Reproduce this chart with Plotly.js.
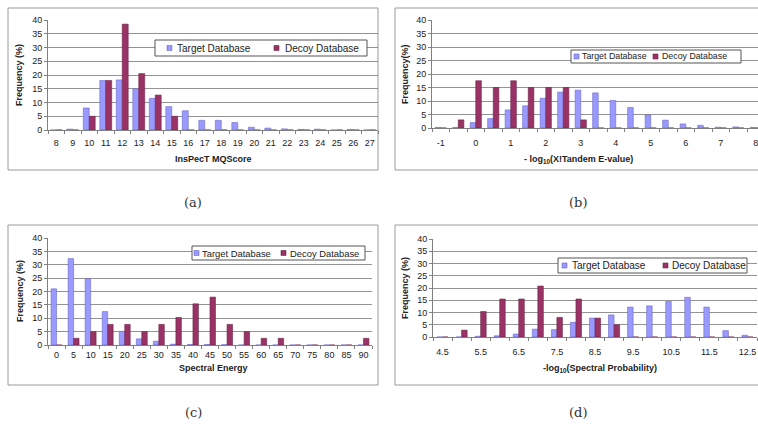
<!DOCTYPE html>
<html>
<head>
<meta charset="utf-8">
<script src="https://cdn.plot.ly/plotly-3.0.1.min.js"></script>
<style>
html,body{margin:0;padding:0;background:#fff;}
#chart{width:758px;height:428px;}
</style>
</head>
<body>
<div id="chart"></div>
<script>
// ---------- DATA ----------
// (a) InsPecT MQScore
const catsA = ['8','9','10','11','12','13','14','15','16','17','18','19','20','21','22','23','24','25','26','27'];
const targetA = [0, 0.3, 8, 18, 18.2, 15, 11.5, 8.5, 7, 3.5, 3.5, 2.7, 1, 0.7, 0.4, 0.2, 0.3, 0, 0.2, 0];
const decoyA  = [0, 0, 5, 18, 38.5, 20.5, 12.7, 5, 0, 0, 0, 0, 0, 0, 0, 0, 0, 0, 0, 0];

// (b) -log10(X!Tandem E-value)
const catsB = [-1, -0.5, 0, 0.5, 1, 1.5, 2, 2.5, 3, 3.5, 4, 4.5, 5, 5.5, 6, 6.5, 7, 7.5, 8];
const targetB = [0.2, 0.2, 2, 3.5, 6.7, 8.2, 11, 13.3, 14, 13, 10.2, 7.6, 4.8, 2.9, 1.5, 1, 0.3, 0.4, 0.2];
const decoyB  = [0, 3, 17.5, 15, 17.5, 15, 15, 15, 3, 0, 0, 0, 0, 0, 0, 0, 0, 0, 0];
const ticksB = [-1, 0, 1, 2, 3, 4, 5, 6, 7, 8];

// (c) Spectral Energy
const catsC = ['0','5','10','15','20','25','30','35','40','45','50','55','60','65','70','75','80','85','90'];
const targetC = [21, 32.3, 24.8, 12.5, 5.1, 2.3, 1.4, 0.3, 0.2, 0.2, 0.1, 0, 0, 0, 0, 0, 0, 0, 0];
const decoyC  = [0, 2.5, 5, 7.7, 7.7, 5, 7.7, 10.3, 15.4, 17.9, 7.7, 5, 2.5, 2.5, 0, 0, 0, 0, 2.5];

// (d) -log10(Spectral Probability)
const catsD = [4.5, 5, 5.5, 6, 6.5, 7, 7.5, 8, 8.5, 9, 9.5, 10, 10.5, 11, 11.5, 12, 12.5];
const targetD = [0, 0, 0.3, 0.5, 1.2, 3.2, 3, 6, 7.7, 9, 12.2, 12.7, 14.5, 16.2, 12.2, 2.6, 0.7];
const decoyD  = [0, 2.8, 10.4, 15.5, 15.5, 20.8, 8, 15.5, 7.7, 5, 0, 0, 0, 0, 0, 0, 0];
const ticksD = [4.5, 5.5, 6.5, 7.5, 8.5, 9.5, 10.5, 11.5, 12.5];

const seriesNames = ['Target Database', 'Decoy Database'];

// ---------- STYLE / LAYOUT ----------
const W = 758, H = 428;
const px = x => x / W;
const py = y => 1 - y / H;

const targetFill = '#9999FF', targetEdge = '#6a6ac8';
const decoyFill = '#993366', decoyEdge = '#6e2447';
const fontFam = 'Liberation Sans, Arial, sans-serif';

function barPair(cats, t, d, xa, ya, w) {
  return [
    {type: 'bar', x: cats, y: t, name: seriesNames[0], xaxis: xa, yaxis: ya,
     width: w, offset: -w, marker: {color: targetFill, line: {color: targetEdge, width: 0.6}}, hoverinfo: 'x+y'},
    {type: 'bar', x: cats, y: d, name: seriesNames[1], xaxis: xa, yaxis: ya,
     width: w, offset: 0, marker: {color: decoyFill, line: {color: decoyEdge, width: 0.6}}, hoverinfo: 'x+y'}
  ];
}

const data = [].concat(
  barPair(catsA, targetA, decoyA, 'x', 'y', 0.36),
  barPair(catsB, targetB, decoyB, 'x2', 'y2', 0.16),
  barPair(catsC, targetC, decoyC, 'x3', 'y3', 0.32),
  barPair(catsD, targetD, decoyD, 'x4', 'y4', 0.145)
);

const gridCol = '#939393';
const tickFont = {family: fontFam, size: 9, color: '#222'};

function yAxis(domain, anchor) {
  return {
    domain: domain, anchor: anchor, range: [0, 40], dtick: 5, tick0: 0,
    showgrid: true, gridcolor: gridCol, gridwidth: 1,
    showline: true, linecolor: '#808080', linewidth: 1,
    ticks: 'outside', ticklen: 3, tickcolor: '#808080',
    tickfont: tickFont, zeroline: false, fixedrange: true
  };
}

function catXAxis(domain, anchor, n, standoff) {
  return {
    domain: domain, anchor: anchor, type: 'category', range: [-0.5, n - 0.5],
    showline: true, linecolor: '#808080', linewidth: 1,
    ticks: 'outside', ticklen: 3, tickcolor: '#808080', tickson: 'boundaries',
    tickangle: 0, ticklabelstandoff: standoff, ticklabeloverflow: 'allow',
    tickfont: tickFont, showgrid: false, zeroline: false, fixedrange: true
  };
}

function numXAxis(domain, anchor, range, tickvals, minorStart) {
  return {
    domain: domain, anchor: anchor, type: 'linear', range: range,
    tickmode: 'array', tickvals: tickvals, ticktext: tickvals.map(String),
    showline: true, linecolor: '#808080', linewidth: 1,
    ticks: '', tickangle: 0, ticklabelstandoff: 6, ticklabeloverflow: 'allow',
    tickfont: tickFont, showgrid: false, zeroline: false, fixedrange: true,
    minor: {ticks: 'outside', ticklen: 3, tickcolor: '#808080', tick0: minorStart, dtick: 0.5, showgrid: false}
  };
}

// chart-area frames
const boxes = [[8, 8, 378, 170], [395, 8, 770, 170], [8, 225, 378, 385], [395, 225, 770, 385]];
const shapes = boxes.map(b => ({
  type: 'rect', xref: 'paper', yref: 'paper',
  x0: px(b[0]), x1: px(b[2]), y0: py(b[3]), y1: py(b[1]),
  line: {color: '#9a9a9a', width: 1}, fillcolor: 'rgba(0,0,0,0)', layer: 'below'
}));

function ann(text, x, y, opts) {
  return Object.assign({
    text: text, xref: 'paper', yref: 'paper', x: px(x), y: py(y),
    xanchor: 'center', yanchor: 'middle', showarrow: false,
    font: {family: fontFam, size: 9, color: '#222'}
  }, opts || {});
}
const capFont = {family: 'DejaVu Serif, Liberation Serif, serif', size: 13, color: '#333'};

const annotations = [
  ann('<b>InsPecT MQScore</b>', 213, 159),
  ann('<b>- log<sub>10</sub>(X!Tandem E-value)</b>', 578, 159),
  ann('<b>Spectral Energy</b>', 213, 368),
  ann('<b>-log<sub>10</sub>(Spectral Probability)</b>', 600, 368),
  ann('<b>Frequency (%)</b>', 19, 75, {textangle: -90}),
  ann('<b>Frequency(%)</b>', 405, 74, {textangle: -90}),
  ann('<b>Frequency (%)</b>', 20, 291, {textangle: -90}),
  ann('<b>Frequency (%)</b>', 405, 288, {textangle: -90}),
  ann('(a)', 193, 202, {font: capFont}),
  ann('(b)', 578, 202, {font: capFont}),
  ann('(c)', 193, 412, {font: capFont}),
  ann('(d)', 578, 412, {font: capFont})
];

// legends: [boxLeft, boxRight, boxTop, boxBottom, swatchT x, textT x, swatchD x, textD x, font size]
const legendBoxes = [
  [155, 367, 40, 56, 167, 175, 274, 283, 10],
  [571, 741, 50, 63, 574, 580, 653, 660, 8.8],
  [192, 365, 246, 260, 194, 200, 281, 288, 9.4],
  [558, 747, 258, 273, 562, 570, 663, 670, 10]
];
legendBoxes.forEach(L => {
  const [l, r, t, b, sT, tT, sD, tD, fs] = L;
  const cy = (t + b) / 2;
  shapes.push({type: 'rect', xref: 'paper', yref: 'paper', x0: px(l), x1: px(r), y0: py(b), y1: py(t),
    line: {color: '#555', width: 1}, fillcolor: '#ffffff', layer: 'above'});
  shapes.push({type: 'rect', xref: 'paper', yref: 'paper', x0: px(sT), x1: px(sT + 5), y0: py(cy + 2.5), y1: py(cy - 2.5),
    line: {color: targetEdge, width: 0.6}, fillcolor: targetFill, layer: 'above'});
  shapes.push({type: 'rect', xref: 'paper', yref: 'paper', x0: px(sD), x1: px(sD + 5), y0: py(cy + 2.5), y1: py(cy - 2.5),
    line: {color: decoyEdge, width: 0.6}, fillcolor: decoyFill, layer: 'above'});
  const lf = {family: fontFam, size: fs, color: '#222'};
  annotations.push(ann(seriesNames[0], tT, cy, {xanchor: 'left', font: lf}));
  annotations.push(ann(seriesNames[1], tD, cy, {xanchor: 'left', font: lf}));
});

const layout = {
  width: W, height: H, margin: {l: 0, r: 0, t: 0, b: 0},
  paper_bgcolor: '#ffffff', plot_bgcolor: 'rgba(0,0,0,0)',
  barmode: 'overlay', showlegend: false,
  xaxis:  catXAxis([px(48), px(378)], 'y', catsA.length, 4),
  yaxis:  yAxis([py(130), py(20)], 'x'),
  xaxis2: numXAxis([px(432), 1], 'y2', [-1.25, -1.25 + (758 - 432) / 35], ticksB, -1.25),
  yaxis2: yAxis([py(128), py(20)], 'x2'),
  xaxis3: catXAxis([px(48), px(372)], 'y3', catsC.length, 1),
  yaxis3: yAxis([py(345), py(238)], 'x3'),
  xaxis4: numXAxis([px(433), px(757)], 'y4', [4.25, 12.75], ticksD, 4.25),
  yaxis4: yAxis([py(337), py(239)], 'x4'),
  shapes: shapes,
  annotations: annotations
};

Plotly.newPlot('chart', data, layout, {staticPlot: true, displayModeBar: false});
</script>
</body>
</html>
